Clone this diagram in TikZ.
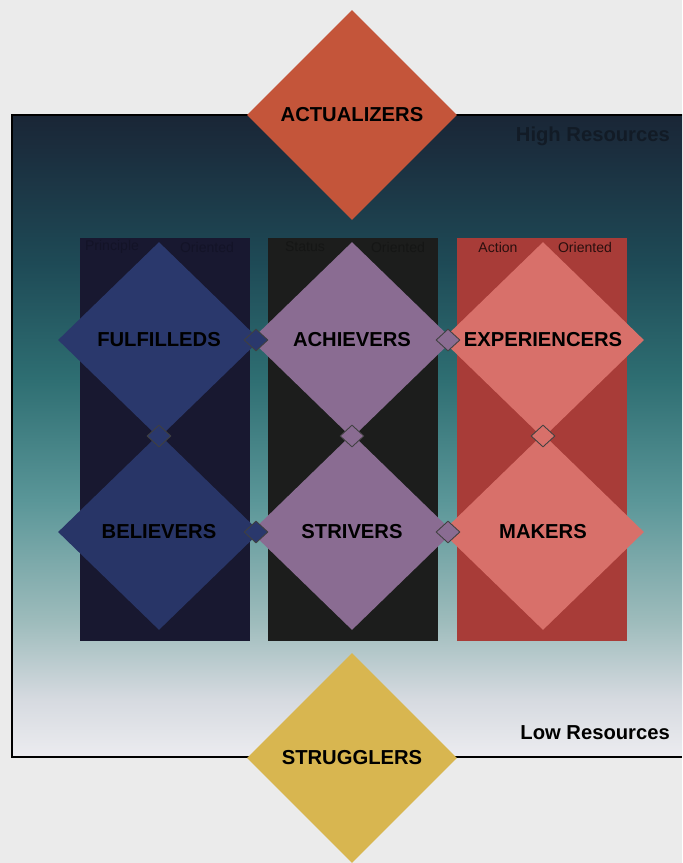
\documentclass[tikz,border=0pt]{standalone}
\usepackage{fontspec}
\setmainfont{Liberation Sans}
\usetikzlibrary{shapes.geometric}
\definecolor{page}{HTML}{EBEBEB}
\definecolor{resA}{HTML}{ECECF0}
\definecolor{resB}{HTML}{D6DAE0}
\definecolor{resC}{HTML}{9EBCBC}
\definecolor{resD}{HTML}{5A9698}
\definecolor{resE}{HTML}{2E6E72}
\definecolor{resF}{HTML}{1E4A56}
\definecolor{resG}{HTML}{1B3040}
\definecolor{resH}{HTML}{1A2636}
\definecolor{actual}{HTML}{C4553A}
\definecolor{strug}{HTML}{D8B650}
\definecolor{prin}{HTML}{181830}
\definecolor{stat}{HTML}{1C1D1C}
\definecolor{acto}{HTML}{A83C38}
\definecolor{blue}{HTML}{2A386C}
\definecolor{plum}{HTML}{8A6C92}
\definecolor{salmon}{HTML}{D8706A}
% tikz fits the middle 25bp..75bp of the shading to the path
\pgfdeclareverticalshading{resources}{100bp}{color(0bp)=(resA); color(25bp)=(resA); color(29.5bp)=(resB); color(35.5bp)=(resC); color(45bp)=(resD); color(54.5bp)=(resE); color(63.5bp)=(resF); color(71.5bp)=(resG); color(75bp)=(resH); color(100bp)=(resH)}

\begin{document}
\begin{tikzpicture}[x=0.2mm, y=-0.2mm,
      seg/.style={diamond, inner sep=0pt, font=\bfseries\fontsize{11.5}{12}\selectfont, minimum width=40.4mm, minimum height=39.2mm},
      big/.style={seg, minimum width=42mm, minimum height=42mm},
      knot/.style={diamond, draw=black!75, line width=0.5pt, inner sep=0pt, minimum width=4.8mm, minimum height=4.4mm},
      colbox/.style={inner sep=0pt, minimum width=34mm, minimum height=80.6mm},
      orient/.style={font=\fontsize{8}{9}\selectfont}]
    \fill[page] (0,0) rectangle (682,863);
    \useasboundingbox (0,0) rectangle (682,863);
    \shade[shading=resources] (12,115) rectangle (682,757);
    \draw[line width=0.6pt] (682,115) -- (12,115) -- (12,757) -- (682,757);
    \node[anchor=east, font=\bfseries\fontsize{11.5}{12}\selectfont, text=resH!70!black] (high) at (676,136) {High Resources};
    \node[anchor=east, font=\bfseries\fontsize{11.5}{12}\selectfont] (low) at (676,733) {Low Resources};
    % three columns
    \node[colbox, fill=prin] (colprin) at (165,439.5) {};
    \node[colbox, fill=stat] (colstat) at (353,439.5) {};
    \node[colbox, fill=acto] (colact) at (542,439.5) {};
    \node[orient, text=prin!80!black] (prinA) at (112,247) {Principle};
    \node[orient, text=prin!80!black] (prinB) at (207,247) {Oriented};
    \node[orient, text=stat!75!black] (statA) at (305,247) {Status};
    \node[orient, text=stat!75!black] (statB) at (398,247) {Oriented};
    \node[orient, text=black!75!acto] (actA) at (498,247) {Action};
    \node[orient, text=black!75!acto] (actB) at (585,247) {Oriented};
    % segments
    \node[seg, fill=blue] (ful) at (159,340) {FULFILLEDS};
    \node[seg, fill=plum] (ach) at (352,340) {ACHIEVERS};
    \node[seg, fill=salmon] (exp) at (543,340) {EXPERIENCERS};
    \node[seg, fill=blue!95!black] (bel) at (159,532) {BELIEVERS};
    \node[seg, fill=plum] (stri) at (352,532) {STRIVERS};
    \node[seg, fill=salmon] (mak) at (543,532) {MAKERS};
    \node[knot, fill=blue] (k1) at (256,340) {};
    \node[knot, fill=plum] (k2) at (448,340) {};
    \node[knot, fill=blue] (k3) at (256,532) {};
    \node[knot, fill=plum] (k4) at (448,532) {};
    \node[knot, fill=blue] (k5) at (159,436) {};
    \node[knot, fill=plum] (k6) at (352,436) {};
    \node[knot, fill=salmon] (k7) at (543,436) {};
    \node[big, fill=actual] (act) at (352,115) {ACTUALIZERS};
    \node[big, fill=strug] (strg) at (352,758) {STRUGGLERS};
  \end{tikzpicture}
\end{document}
